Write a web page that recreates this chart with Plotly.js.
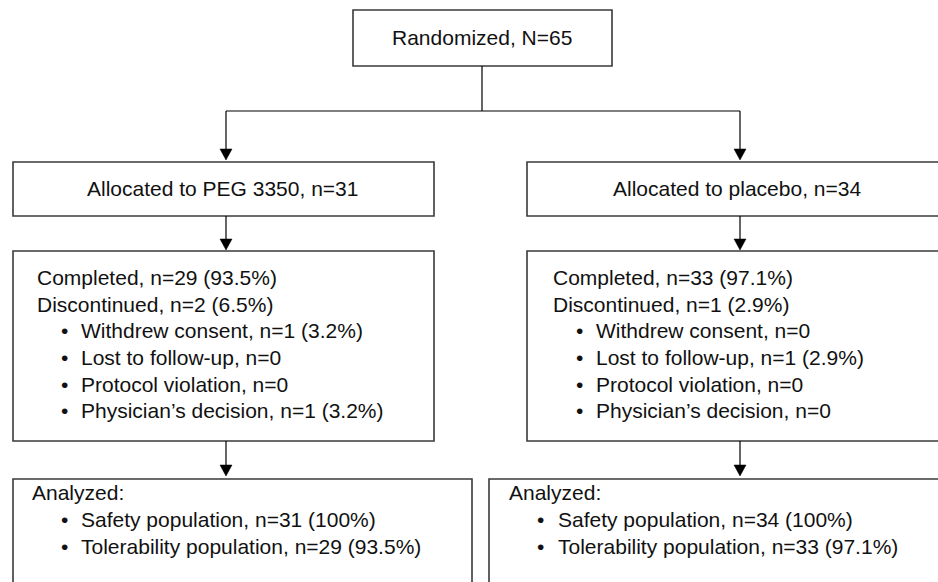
<!DOCTYPE html>
<html>
<head>
<meta charset="utf-8">
<script src="https://cdn.plot.ly/plotly-3.0.1.min.js"></script>
<style>html,body{margin:0;padding:0;background:#fff;}#chart{width:938px;height:582px;}</style>
</head>
<body>
<div id="chart"></div>
<script>
// ---- content (text values) ----
const topLabel = "Randomized, N=65";
const armLabels = ["Allocated to PEG 3350, n=31", "Allocated to placebo, n=34"];
const pegStatus = ["Completed, n=29 (93.5%)", "Discontinued, n=2 (6.5%)"];
const pegReasons = ["Withdrew consent, n=1 (3.2%)", "Lost to follow-up, n=0", "Protocol violation, n=0", "Physician\u2019s decision, n=1 (3.2%)"];
const placeboStatus = ["Completed, n=33 (97.1%)", "Discontinued, n=1 (2.9%)"];
const placeboReasons = ["Withdrew consent, n=0", "Lost to follow-up, n=1 (2.9%)", "Protocol violation, n=0", "Physician\u2019s decision, n=0"];
const analyzedHeader = "Analyzed:";
const pegAnalyzed = ["Safety population, n=31 (100%)", "Tolerability population, n=29 (93.5%)"];
const placeboAnalyzed = ["Safety population, n=34 (100%)", "Tolerability population, n=33 (97.1%)"];

// ---- geometry (pixel layout of the flow diagram) ----
const W = 938, H = 582;
const FS = 21;
const boxes = {
  top: [353, 10, 612, 66],
  armL: [13, 162, 434, 216],
  armR: [527, 162, 953, 216],
  dispL: [13, 251, 434, 441],
  dispR: [527, 251, 953, 441],
  anaL: [13, 479, 472, 620],
  anaR: [489, 479, 991, 620]
};
const colL = 226, colR = 740, topX = 482, splitY = 111;
const dispBase = 285, dispStep = 26.6;
const anaBase = 499.3, anaStep = 27;
const left = {status: 37, bullet: 61, text: 81, anaHead: 32, anaBullet: 61, anaText: 81};
const right = {status: 553, bullet: 576, text: 596, anaHead: 509, anaBullet: 537, anaText: 558};

const shapes = [];
const annotations = [];
const boxLine = {color: '#3a3a3a', width: 1.6};
const arrowLine = {color: '#000', width: 1.2};

Object.values(boxes).forEach(b => {
  shapes.push({type: 'rect', xref: 'x', yref: 'y', x0: b[0], y0: b[1], x1: b[2], y1: b[3], line: boxLine, fillcolor: 'rgba(0,0,0,0)'});
});
function seg(x0, y0, x1, y1) {
  shapes.push({type: 'line', xref: 'x', yref: 'y', x0: x0, y0: y0, x1: x1, y1: y1, line: arrowLine});
}
function arrow(x, y0, yTip) {
  const headH = 11, headW = 6;
  seg(x, y0, x, yTip - headH + 1);
  shapes.push({type: 'path', xref: 'x', yref: 'y',
    path: `M ${x - headW} ${yTip - headH} L ${x + headW} ${yTip - headH} L ${x} ${yTip} Z`,
    fillcolor: '#000', line: {color: '#000', width: 0.5}});
}
// connectors
seg(topX, boxes.top[3], topX, splitY);
seg(colL, splitY, colR, splitY);
arrow(colL, splitY, 160);
arrow(colR, splitY, 160);
arrow(colL, boxes.armL[3], 250);
arrow(colR, boxes.armR[3], 250);
arrow(colL, boxes.dispL[3], 476);
arrow(colR, boxes.dispR[3], 476);

const yOff = FS * 0.3465;
function txt(text, x, baseline, anchor) {
  annotations.push({text: text, x: x, y: baseline - yOff, xref: 'x', yref: 'y',
    xanchor: anchor || 'left', yanchor: 'middle', showarrow: false,
    borderpad: 0, borderwidth: 0,
    font: {family: 'Liberation Sans, Arial, sans-serif', size: FS, color: '#111'}});
}

txt(topLabel, topX, 45, 'center');
txt(armLabels[0], 222.5, 196, 'center');
txt(armLabels[1], 737, 196, 'center');

function disposition(status, reasons, pos) {
  status.forEach((s, i) => txt(s, pos.status, dispBase + i * dispStep));
  reasons.forEach((r, i) => {
    const b = dispBase + (i + status.length) * dispStep;
    txt('\u2022', pos.bullet, b);
    txt(r, pos.text, b);
  });
}
disposition(pegStatus, pegReasons, left);
disposition(placeboStatus, placeboReasons, right);

function analyzed(items, pos) {
  txt(analyzedHeader, pos.anaHead, anaBase);
  items.forEach((r, i) => {
    const b = anaBase + (i + 1) * anaStep;
    txt('\u2022', pos.anaBullet, b);
    txt(r, pos.anaText, b);
  });
}
analyzed(pegAnalyzed, left);
analyzed(placeboAnalyzed, right);

const layout = {
  width: W, height: H,
  margin: {l: 0, r: 0, t: 0, b: 0, pad: 0},
  paper_bgcolor: '#fff', plot_bgcolor: '#fff',
  showlegend: false,
  xaxis: {range: [0, W], visible: false, fixedrange: true},
  yaxis: {range: [H, 0], visible: false, fixedrange: true},
  shapes: shapes,
  annotations: annotations
};
Plotly.newPlot('chart', [], layout, {staticPlot: true, displayModeBar: false});
</script>
</body>
</html>
